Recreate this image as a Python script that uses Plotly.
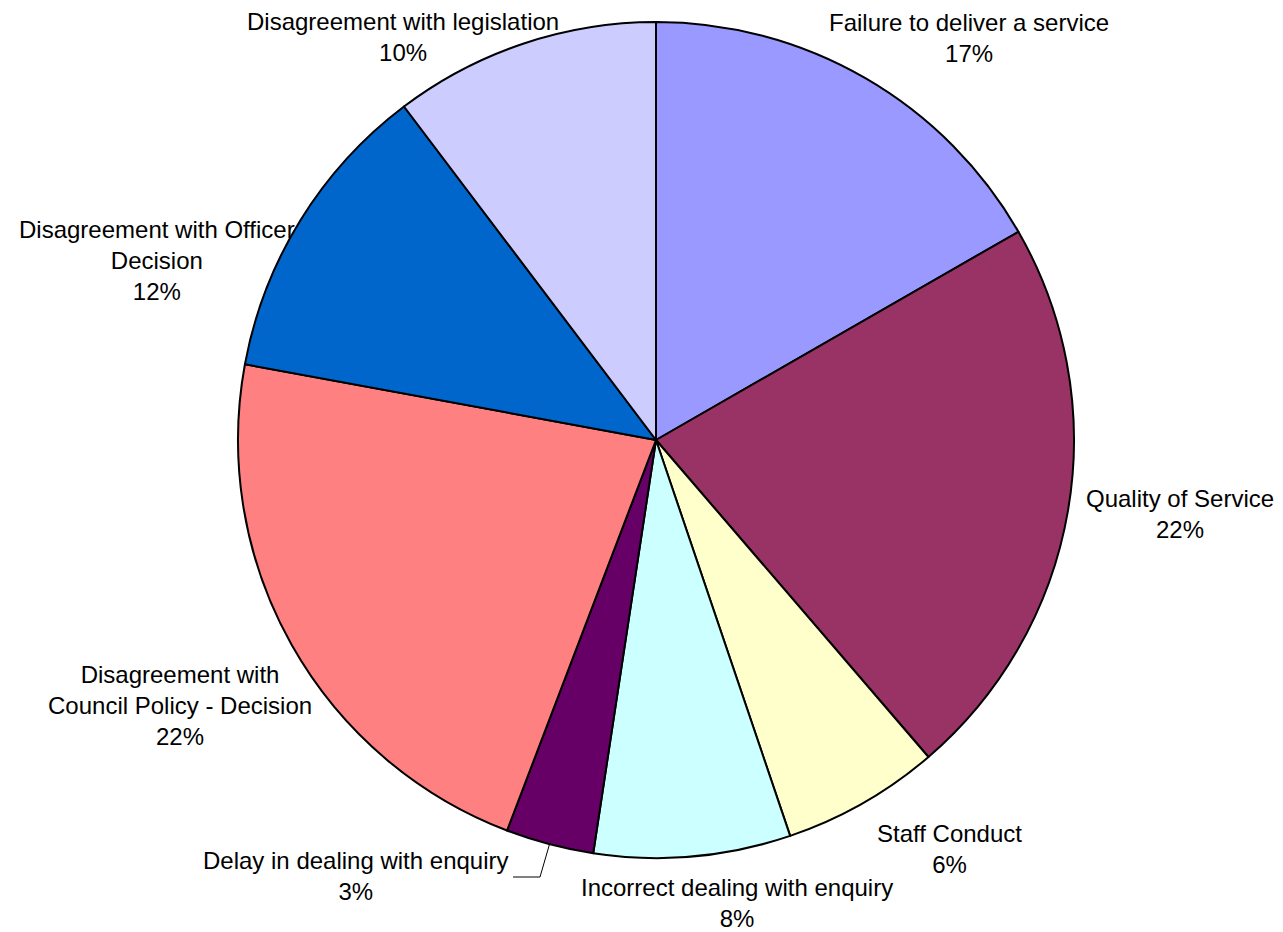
import math
import plotly.graph_objects as go

# ---- data ----
categories = [
    "Failure to deliver a service",
    "Quality of Service",
    "Staff Conduct",
    "Incorrect dealing with enquiry",
    "Delay in dealing with enquiry",
    "Disagreement with Council Policy - Decision",
    "Disagreement with Officer Decision",
    "Disagreement with legislation",
]
values = [16.7, 22.0, 6.1, 7.6, 3.4, 22.1, 11.8, 10.3]
label_lines = [
    "Failure to deliver a service",
    "Quality of Service",
    "Staff Conduct",
    "Incorrect dealing with enquiry",
    "Delay in dealing with enquiry",
    "Disagreement with<br>Council Policy - Decision",
    "Disagreement with Officer<br>Decision",
    "Disagreement with legislation",
]
colors = ["#9999FF", "#993366", "#FFFFCC", "#CCFFFF", "#660066",
          "#FF8080", "#0066CC", "#CCCCFF"]

# ---- layout (pixel positions of label centres) ----
W, H = 1283, 932
cx, cy, R = 656, 440, 418
label_pos = [(969, 38), (1180, 514), (949, 849), (737, 903),
             (356, 876), (180, 705), (157, 260), (403, 37)]

def px(x):
    return x / W

def py(y):
    return 1 - y / H

fig = go.Figure()
fig.add_trace(go.Pie(
    labels=categories,
    values=values,
    sort=False,
    direction="clockwise",
    rotation=0,
    textinfo="none",
    hoverinfo="label+percent",
    marker=dict(colors=colors, line=dict(color="black", width=2)),
    domain=dict(x=[px(cx - R), px(cx + R)], y=[py(cy + R), py(cy - R)]),
    showlegend=False,
))

total = sum(values)
annotations = []
for text, v, (lx, ly) in zip(label_lines, values, label_pos):
    pct = round(100 * v / total)
    annotations.append(dict(
        x=px(lx), y=py(ly), xref="paper", yref="paper",
        text=f"{text}<br>{pct}%", showarrow=False,
        xanchor="center", yanchor="middle", align="center",
        borderpad=0,
        font=dict(family="Liberation Sans, Arial, sans-serif", size=24, color="black"),
    ))

# leader line for the small "Delay" slice, pointing at its mid-angle on the rim
idx = 4
cum = sum(values[:idx]) + values[idx] / 2
ang = 2 * math.pi * cum / total
ex = cx + R * math.sin(ang)
ey = cy - R * math.cos(ang)
path = f"M {px(513)} {py(877)} L {px(540)} {py(877)} L {px(ex)} {py(ey)}"
shapes = [dict(type="path", path=path, xref="paper", yref="paper",
               line=dict(color="black", width=1))]

fig.update_layout(
    width=W, height=H,
    margin=dict(l=0, r=0, t=0, b=0),
    paper_bgcolor="white", plot_bgcolor="white",
    annotations=annotations,
    shapes=shapes,
)

fig.write_html(
    "out.html",
    config={"displayModeBar": False},
    post_script="document.body.style.margin='0';document.body.style.overflow='hidden';",
)
